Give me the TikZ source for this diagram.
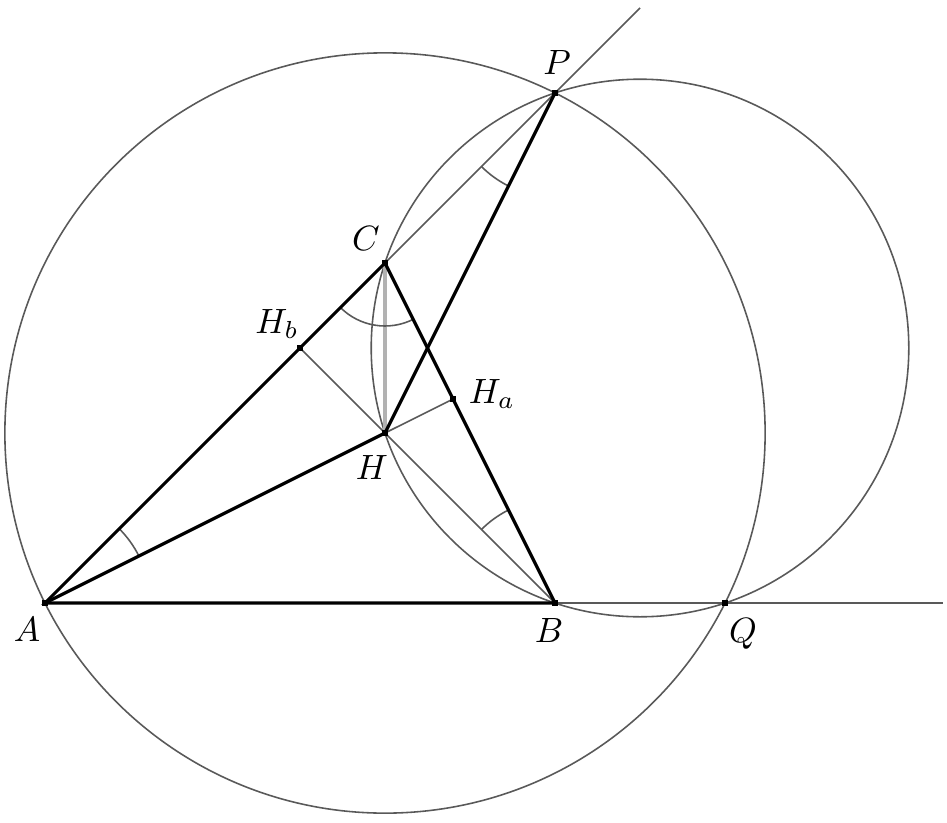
\documentclass[tikz,border=0pt]{standalone}
\usetikzlibrary{calc}
\begin{document}
\begin{tikzpicture}[
  thickline/.style={line width=0.9pt, black},
  thinline/.style={line width=0.45pt, black!65},
  lightline/.style={line width=1.0pt, black!30},
  anglemark/.style={line width=0.45pt, black!65},
  dot/.style={rectangle, fill=black, inner sep=0pt, minimum size=1.9pt},
  lbl/.style={inner sep=0pt}
]
\useasboundingbox (-0.45,-2.19) rectangle (9.02,6.03);
% points
\coordinate (A) at (0,0);
\coordinate (B) at (5.1,0);
\coordinate (C) at (3.4,3.4);
\coordinate (H) at (3.4,1.7);
\coordinate (Hb) at (2.55,2.55);
\coordinate (Ha) at (4.08,2.04);
\coordinate (P) at (5.1,5.1);
\coordinate (Q) at (6.8,0);
\coordinate (O2) at (5.95,2.55);
\coordinate (Lend) at (5.95,5.95);
\coordinate (Rend) at (8.98,0);
% circles
\draw[thinline] (H) circle[radius=3.8013];
\draw[thinline] (O2) circle[radius=2.6879];
% thin lines
\draw[thinline] (C) -- (Lend);
\draw[thinline] (B) -- (Rend);
\draw[thinline] (B) -- (Hb);
\draw[thinline] (H) -- (Ha);
\draw[lightline] (C) -- (H);
% angle marks
\draw[anglemark] (A) ++(26.57:1.05) arc[start angle=26.57, end angle=45, radius=1.05];
\draw[anglemark] (B) ++(116.57:1.04) arc[start angle=116.57, end angle=135, radius=1.04];
\draw[anglemark] (P) ++(225:1.04) arc[start angle=225, end angle=243.43, radius=1.04];
\draw[anglemark] (C) ++(225:0.63) arc[start angle=225, end angle=296.57, radius=0.63];
% thick lines
\draw[thickline] (A) -- (B) -- (C) -- cycle;
\draw[thickline] (A) -- (H) -- (P);
% dots
\foreach \p in {A,B,C,H,Hb,Ha,P,Q} \node[dot] (d\p) at (\p) {};
% labels
\node[lbl] (lA) at (-0.18,-0.26) {$A$};
\node[lbl] (lB) at (5.04,-0.27) {$B$};
\node[lbl] (lC) at (3.21,3.65) {$C$};
\node[lbl] (lP) at (5.12,5.41) {$P$};
\node[lbl] (lQ) at (6.98,-0.31) {$Q$};
\node[lbl] (lH) at (3.27,1.36) {$H$};
\node[lbl] (lHb) at (2.32,2.79) {$H_b$};
\node[lbl] (lHa) at (4.47,2.09) {$H_a$};
\end{tikzpicture}
\end{document}
